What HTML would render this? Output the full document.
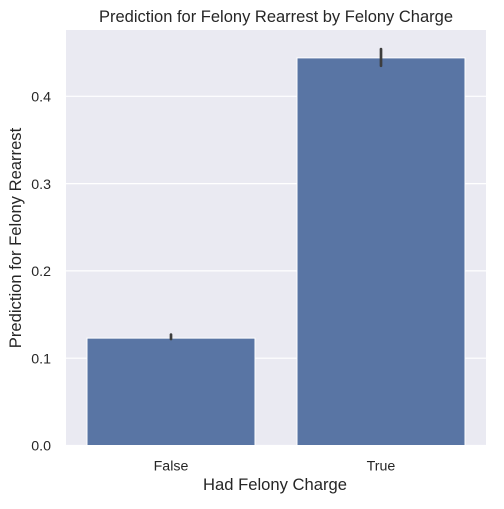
<!DOCTYPE html>
<html><head><meta charset="utf-8"><style>
body{margin:0;background:#fff;}
svg text{font-family:"Liberation Sans","DejaVu Sans",sans-serif;fill:#262626;}
</style></head><body>
<svg id="chart" width="504" height="504" xmlns="http://www.w3.org/2000/svg">
<rect x="66" y="30" width="420" height="415.5" fill="#eaeaf2"/>
<g id="grid"></g><g id="bars"></g><g id="axes"></g>
<text x="276" y="22" text-anchor="middle" font-size="16.5">Prediction for Felony Rearrest by Felony Charge</text>
<text x="275" y="490" text-anchor="middle" font-size="16.6">Had Felony Charge</text>
<text transform="translate(21,238) rotate(-90)" text-anchor="middle" font-size="16.6">Prediction for Felony Rearrest</text>
</svg>
<script>
const categories=["False","True"];
const values=[0.123,0.444];
const ciLow=[0.122,0.435];
const ciHigh=[0.127,0.454];
const yTicks=[0,0.1,0.2,0.3,0.4];
const yTickLabels=["0.0","0.1","0.2","0.3","0.4"];
const NS="http://www.w3.org/2000/svg";
const X0=66,X1=486,Y0=445.5,PXU=873;
const y=v=>Y0-v*PXU;
const band=(X1-X0)/categories.length;
const xc=i=>X0+band*(i+0.5);
const bw=band*0.8;
function mk(tag,attrs,parent,text){const e=document.createElementNS(NS,tag);for(const k in attrs)e.setAttribute(k,attrs[k]);if(text!==undefined)e.textContent=text;parent.appendChild(e);return e;}
const grid=document.getElementById('grid'),bars=document.getElementById('bars'),axes=document.getElementById('axes');
yTicks.forEach((t,i)=>{
  const l=mk('line',{x1:X0,x2:X1,y1:y(t),y2:y(t),stroke:'#fff','stroke-width':1.2},grid);
  
  
  const tx=mk('text',{x:X0-15,y:y(t)+5.2,'text-anchor':'end','font-size':14.2},axes,yTickLabels[i]);
  
  
});
categories.forEach((c,i)=>{
  const r=mk('rect',{x:xc(i)-bw/2,y:y(values[i]),width:bw,height:y(0)-y(values[i]),fill:'#5975a4',stroke:'#fff','stroke-width':1},bars);
  
  
  const e=mk('line',{x1:xc(i),x2:xc(i),y1:y(ciLow[i]),y2:y(ciHigh[i]),stroke:'#3d3d3d','stroke-width':2.7,'stroke-linecap':'round'},bars);
  
  
  const tx=mk('text',{x:xc(i),y:470.5,'text-anchor':'middle','font-size':14.2},axes,c);
  
  
});
</script>
</body></html>
